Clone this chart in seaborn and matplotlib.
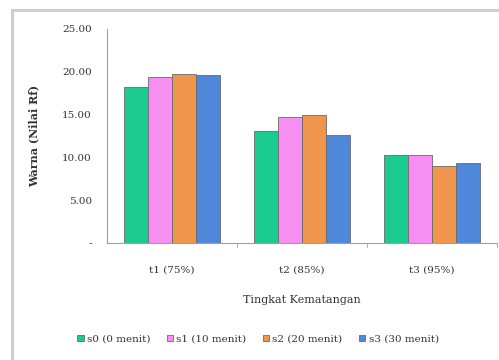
import matplotlib
matplotlib.use("Agg")
import matplotlib.pyplot as plt
import matplotlib.patches as mpatches
import seaborn as sns
import pandas as pd

categories = ["t1 (75%)", "t2 (85%)", "t3 (95%)"]
series = ["s0 (0 menit)", "s1 (10 menit)", "s2 (20 menit)", "s3 (30 menit)"]
s0 = [18.2, 13.1, 10.3]
s1 = [19.4, 14.7, 10.3]
s2 = [19.8, 15.0, 9.0]
s3 = [19.6, 12.6, 9.4]
colors = ["#1ccb8f", "#f78ef2", "#f0964c", "#4f88da"]
yticks = [0, 5, 10, 15, 20, 25]
ytick_labels = ["-", "5.00", "10.00", "15.00", "20.00", "25.00"]

rows = []
for name, vals in zip(series, [s0, s1, s2, s3]):
    for cat, v in zip(categories, vals):
        rows.append({"Tingkat": cat, "Seri": name, "Nilai": v})
df = pd.DataFrame(rows)

sns.set_theme(style="white")
plt.rcParams["font.family"] = ["DejaVu Serif"]

fig = plt.figure(figsize=(4.99, 3.6), dpi=100)
fig.patches.append(mpatches.Rectangle((12 / 499, -0.05), 1.2, 1 - 10 / 360 + 0.05,
                                      transform=fig.transFigure, fill=False,
                                      edgecolor="#cfcfcf", linewidth=2.2))
ax = fig.add_axes([107 / 499, 1 - 243 / 360, 390 / 499, 214 / 360])

sns.barplot(data=df, x="Tingkat", y="Nilai", hue="Seri", palette=colors,
            width=0.74, gap=0.0, edgecolor="#6a6a6a", linewidth=0.6,
            saturation=1, ax=ax, legend=True)

ax.set_ylim(0, 25)
ax.set_xlim(-0.5, 2.5)
ax.set_yticks(yticks)
ax.set_yticklabels(ytick_labels, fontsize=7.5, color="#333333")
ax.tick_params(axis="y", length=3, width=0.6, color="#a0a0a0", direction="out", pad=8)
ax.tick_params(axis="x", length=0, labelsize=7.5, labelcolor="#333333", pad=16)
ax.set_xticks([0, 1, 2])
ax.set_xticklabels(categories)
for xb in [0.5, 1.5, 2.5]:
    ax.plot([xb, xb], [0, -0.5], color="#a0a0a0", lw=0.6, clip_on=False)

for side in ["top", "right"]:
    ax.spines[side].set_visible(False)
for side in ["left", "bottom"]:
    ax.spines[side].set_color("#a0a0a0")
    ax.spines[side].set_linewidth(0.8)

ax.set_xlabel("Tingkat Kematangan", fontsize=8, color="#333333", labelpad=15)
ax.set_ylabel("Warna (Nilai Rf)", fontsize=8, fontweight="bold", color="#333333", labelpad=16)

handles, labels = ax.get_legend_handles_labels()
ax.get_legend().remove()
fig.legend(handles, labels, loc="center", bbox_to_anchor=(258 / 499, 1 - 339 / 360),
           ncol=4, frameon=False, fontsize=7.5, handlelength=0.6, handleheight=0.6,
           handletextpad=0.3, columnspacing=1.6, labelcolor="#333333")

fig.savefig("out.png", dpi=100)
